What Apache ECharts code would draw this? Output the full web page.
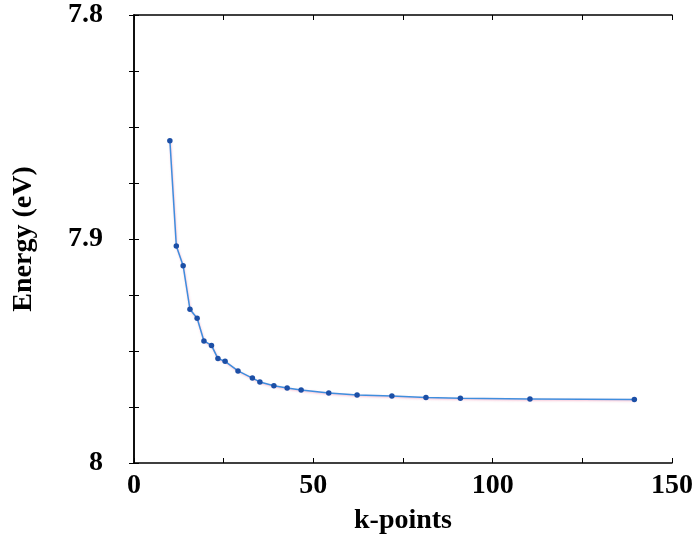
<!DOCTYPE html>
<html>
<head>
<meta charset="utf-8">
<script src="https://cdn.jsdelivr.net/npm/echarts@6/dist/echarts.min.js"></script>
<style>
html,body{margin:0;padding:0;background:#fff;}
#chart{width:696px;height:545px;}
</style>
</head>
<body>
<div id="chart"></div>
<script>
const kPoints = [10, 11.8, 13.7, 15.6, 17.6, 19.5, 21.6, 23.4, 25.4, 29.0, 33.0, 35.1, 39.0, 42.7, 46.6, 54.3, 62.2, 71.9, 81.4, 91.0, 110.4, 139.5];
const energies = [7.8561, 7.9031, 7.9119, 7.9314, 7.9354, 7.9455, 7.9475, 7.9534, 7.9546, 7.9589, 7.9621, 7.9638, 7.9655, 7.9665, 7.9674, 7.9688, 7.9696, 7.9701, 7.9708, 7.9711, 7.9714, 7.9717];
const xTickLabels = ['0', '50', '100', '150'];
const yTickLabels = ['7.8', '7.9', '8'];
const xTitle = 'k-points';
const yTitle = 'Energy (eV)';

const seriesData = kPoints.map((k, i) => [k, energies[i]]);
const font = 'Liberation Serif';

const chart = echarts.init(document.getElementById('chart'), null, {renderer: 'canvas'});
chart.setOption({
  animation: false,
  backgroundColor: '#fff',
  grid: {left: 134, top: 15, right: 24, bottom: 82, show: false},
  xAxis: [{
    type: 'value', min: 0, max: 150, interval: 50, position: 'bottom',
    name: xTitle, nameLocation: 'middle', nameGap: 44,
    nameTextStyle: {fontFamily: font, fontWeight: 'bold', fontSize: 28, color: '#000'},
    axisLine: {show: true, lineStyle: {color: '#000', width: 1.5}},
    axisTick: {show: true, inside: true, length: 5, lineStyle: {color: '#000', width: 1}},
    minorTick: {show: true, splitNumber: 2, length: 5, lineStyle: {color: '#000', width: 1}},
    axisLabel: {fontFamily: font, fontWeight: 'bold', fontSize: 28, color: '#000', margin: 9,
      formatter: v => xTickLabels[Math.round(v / 50)] || ''},
    splitLine: {show: false}
  }, {
    type: 'value', min: 0, max: 150, interval: 50, position: 'top',
    axisLine: {show: true, lineStyle: {color: '#000', width: 1.5}},
    axisTick: {show: true, inside: true, length: 5, lineStyle: {color: '#000', width: 1}},
    minorTick: {show: true, splitNumber: 2, length: 5, lineStyle: {color: '#000', width: 1}},
    axisLabel: {show: false}, splitLine: {show: false}
  }],
  yAxis: [{
    type: 'value', min: 7.8, max: 8, interval: 0.1, inverse: true, position: 'left',
    name: yTitle, nameLocation: 'middle', nameGap: 96, nameRotate: 90,
    nameTextStyle: {fontFamily: font, fontWeight: 'bold', fontSize: 28, color: '#000'},
    axisLine: {show: true, lineStyle: {color: '#000', width: 1.5}},
    axisTick: {show: true, inside: true, length: 5, lineStyle: {color: '#000', width: 1}},
    minorTick: {show: true, splitNumber: 4, length: 5, lineStyle: {color: '#000', width: 1}},
    axisLabel: {fontFamily: font, fontWeight: 'bold', fontSize: 28, color: '#000', margin: 31,
      formatter: v => yTickLabels[Math.round((v - 7.8) / 0.1)] || ''},
    splitLine: {show: false}
  }, {
    type: 'value', min: 7.8, max: 8, interval: 0.1, inverse: true, position: 'right',
    axisLine: {show: true, lineStyle: {color: '#000', width: 1.5}},
    axisTick: {show: true, inside: true, length: 5, lineStyle: {color: '#000', width: 1}},
    minorTick: {show: true, splitNumber: 4, length: 5, lineStyle: {color: '#000', width: 1}},
    axisLabel: {show: false}, splitLine: {show: false}
  }],
  series: [{
    type: 'line',
    xAxisIndex: 0, yAxisIndex: 0,
    data: seriesData,
    symbol: 'circle', symbolSize: 5.5,
    itemStyle: {color: '#1c4fa6'},
    lineStyle: {color: '#3f8ede', width: 1.5, shadowColor: 'rgba(240,120,160,0.5)', shadowBlur: 2, shadowOffsetX: 0.5, shadowOffsetY: 1},
    z: 3
  }]
});
</script>
</body>
</html>
